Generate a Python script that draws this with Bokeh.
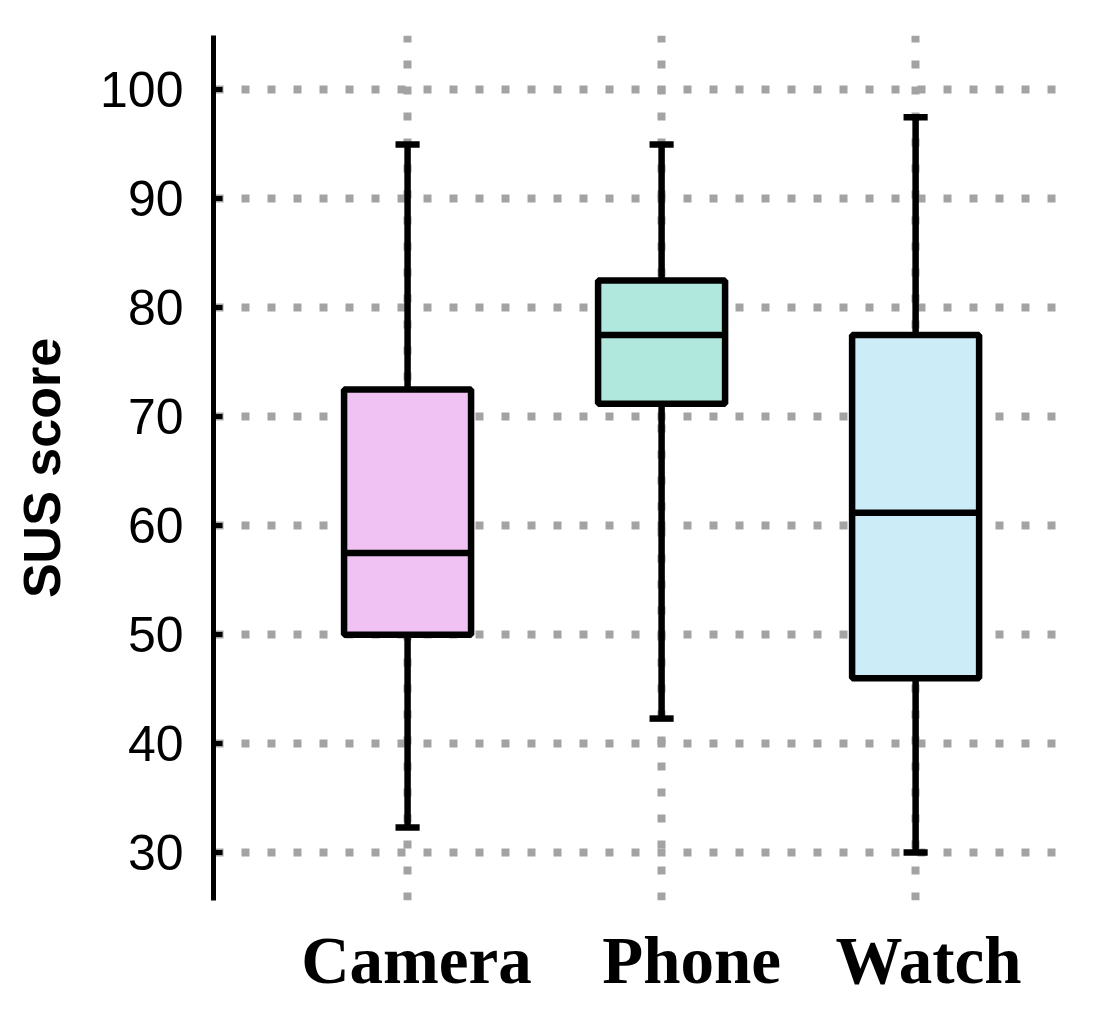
from bokeh.plotting import figure
from bokeh.models import FixedTicker, Range1d
from bokeh.embed import file_html
from bokeh.resources import INLINE

# ---- data ----
categories = ["Camera", "Phone", "Watch"]
lower_whisker = [32.3, 42.3, 30.0]
q1 = [50.0, 71.2, 46.0]
median = [57.5, 77.5, 61.2]
q3 = [72.5, 82.5, 77.5]
upper_whisker = [95.0, 95.0, 97.5]
box_colors = ["#F0C2F4", "#B0E8DE", "#CCECF7"]
y_ticks = [30, 40, 50, 60, 70, 80, 90, 100]

xs = [i + 1 for i in range(len(categories))]
label_pos = [1.035, 2.118, 3.051]
box_w = 0.5
cap_w = 0.095

p = figure(width=1085, height=1000, output_backend="svg", toolbar_location=None,
           x_range=Range1d(0.236, 3.594), y_range=Range1d(25.6, 105.0),
           min_border_left=213, min_border_top=35, min_border_right=19, min_border_bottom=100)
p.outline_line_color = None
p.background_fill_color = "white"

# grids
for g in (p.xgrid, p.ygrid):
    g.grid_line_color = "#a3a3a3"
    g.grid_line_width = 8
    g.grid_line_dash = "8 18"
p.xgrid.ticker = FixedTicker(ticks=xs)
p.ygrid.ticker = FixedTicker(ticks=y_ticks)
p.ygrid.grid_line_dash_offset = 24

# y axis
p.yaxis.ticker = FixedTicker(ticks=y_ticks)
p.yaxis.axis_line_width = 5
p.yaxis.axis_line_color = "black"
p.yaxis.major_tick_in = 9
p.yaxis.major_tick_out = 0
p.yaxis.major_tick_line_width = 5
p.yaxis.minor_tick_line_color = None
p.yaxis.major_label_text_font = "Liberation Sans"
p.yaxis.major_label_text_font_size = "50px"
p.yaxis.major_label_text_color = "black"
p.yaxis.major_label_standoff = 30
p.yaxis.axis_label = "SUS score"
p.yaxis.axis_label_text_font = "Liberation Sans"
p.yaxis.axis_label_text_font_style = "bold"
p.yaxis.axis_label_text_font_size = "52px"
p.yaxis.axis_label_text_color = "black"
p.yaxis.axis_label_standoff = 26

# x axis
p.xaxis.ticker = FixedTicker(ticks=label_pos)
p.xaxis.major_label_overrides = {lp: c for lp, c in zip(label_pos, categories)}
p.xaxis.axis_line_color = None
p.xaxis.major_tick_line_color = None
p.xaxis.minor_tick_line_color = None
p.xaxis.major_label_text_font = "Liberation Serif"
p.xaxis.major_label_text_font_style = "bold"
p.xaxis.major_label_text_font_size = "67px"
p.xaxis.major_label_text_color = "black"
p.xaxis.major_label_standoff = 16

# whiskers
lw = 6.5
p.segment(x0=xs, y0=q3, x1=xs, y1=upper_whisker, line_color="black", line_width=lw)
p.segment(x0=xs, y0=q1, x1=xs, y1=lower_whisker, line_color="black", line_width=lw)
p.segment(x0=[x - cap_w / 2 for x in xs], y0=upper_whisker,
          x1=[x + cap_w / 2 for x in xs], y1=upper_whisker, line_color="black", line_width=lw)
p.segment(x0=[x - cap_w / 2 for x in xs], y0=lower_whisker,
          x1=[x + cap_w / 2 for x in xs], y1=lower_whisker, line_color="black", line_width=lw)

# boxes
p.vbar(x=xs, width=box_w, bottom=q1, top=q3, fill_color=box_colors,
       line_color="black", line_width=lw)
p.segment(x0=[x - box_w / 2 for x in xs], y0=median,
          x1=[x + box_w / 2 for x in xs], y1=median, line_color="black", line_width=lw)

open("out.html", "w").write(file_html(p, INLINE))
